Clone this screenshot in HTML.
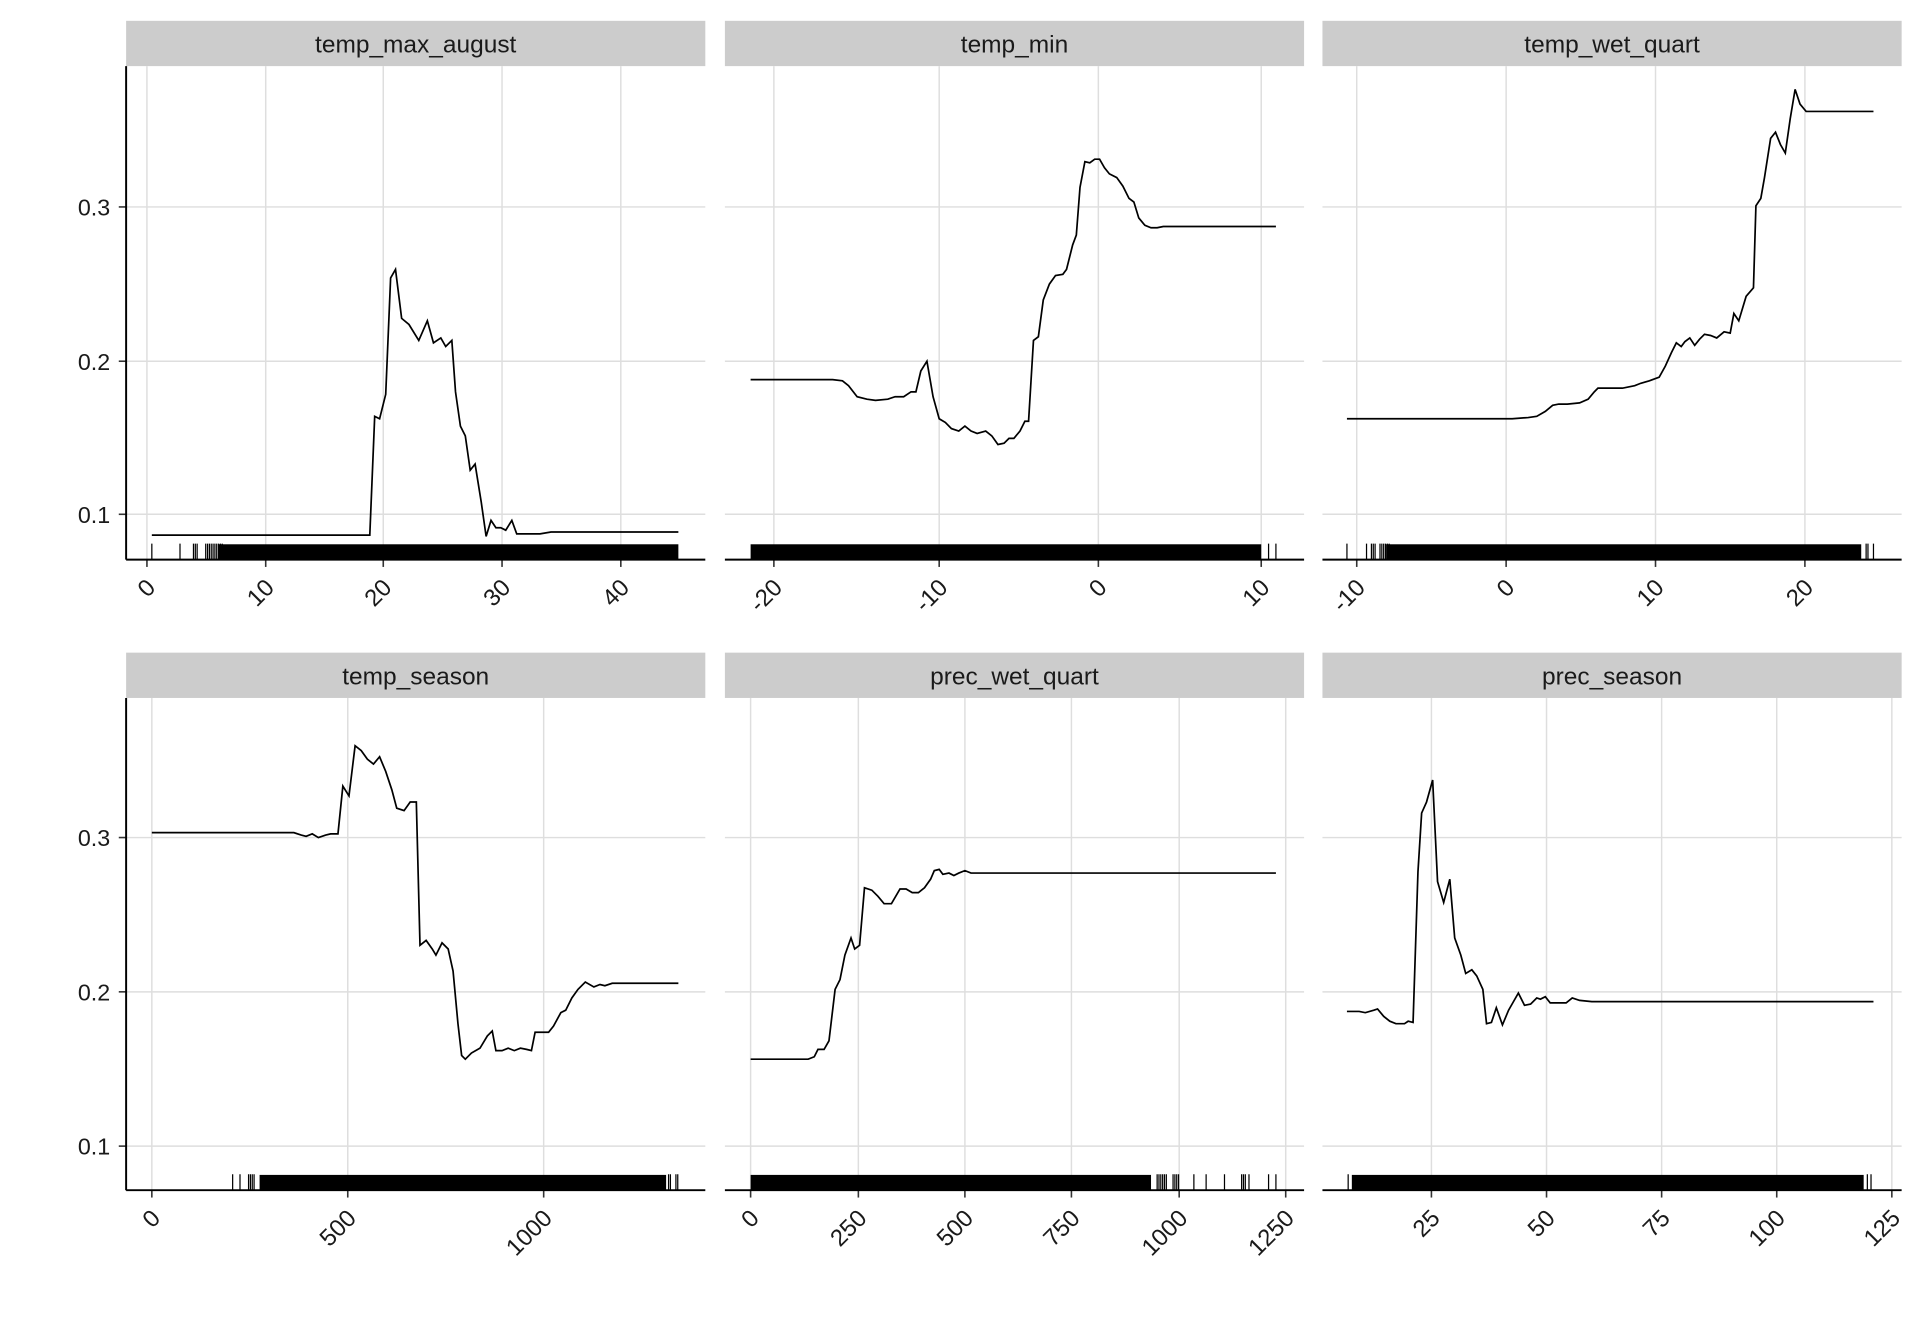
<!DOCTYPE html>
<html><head><meta charset="utf-8"><style>
html,body{margin:0;padding:0;background:#fff;}
svg{display:block;}
text{font-family:"Liberation Sans",Arial,sans-serif;fill:#1a1a1a;}
</style></head><body>
<svg id="s" width="1920" height="1344" viewBox="0 0 1568 1097.6" xmlns="http://www.w3.org/2000/svg"></svg>
<script>
const S=document.getElementById('s');
let h='';
const panels=[
 {x0:103,x1:576,top:17,name:'temp_max_august',row:0,ticks:[[120,'0'],[217,'10'],[313,'20'],[410,'30'],[507,'40']],
  sparse:[[124,1],[147,1],[158,3],[168,10]],solid:[[178,554]],
  pts:[[124,437],[302,437],[306,340],[310,342],[315,322],[319,227],[323,220],[328,260],[334,265],[342,278],[349,262],[354,280],[360,276],[364,283],[369,278],[372,320],[376,348],[380,356],[384,384],[388,379],[393,410],[397,438],[401,425],[405,431],[409,431],[413,433],[418,425],[422,436],[441,436],[450,434.5],[554,434.5]]},
 {x0:592,x1:1065,top:17,name:'temp_min',row:0,ticks:[[632,'-20'],[767,'-10'],[897,'0'],[1030,'10']],
  sparse:[[1036,1],[1042,1]],solid:[[613,1030]],
  pts:[[613,310],[680,310],[688,311],[693,315],[700,324],[708,326],[715,327],[725,326],[731,324],[738,324],[744,320],[748,320],[752,303],[757,295],[762,324],[767,342],[772,345],[777,350],[783,352],[788,348],[793,352],[798,354],[805,352],[810,356],[815,363],[820,362],[824,358],[828,358],[833,352],[837,344],[840,344],[844,278],[848,275],[852,245],[857,232],[862,225],[868,224],[871,220],[876,200],[879,192],[882,153],[886,132],[890,133],[894,130],[898,130],[902,137],[906,142],[912,145],[917,152],[922,162],[926,165],[930,178],[935,184],[940,186],[945,186],[950,185],[960,185],[1042,185]]},
 {x0:1080,x1:1553,top:17,name:'temp_wet_quart',row:0,ticks:[[1108,'-10'],[1230,'0'],[1352,'10'],[1474,'20']],
  sparse:[[1100,1],[1116,1],[1120,3],[1127,6],[1524,2],[1530,1]],solid:[[1132,1520]],
  pts:[[1100,342],[1235,342],[1248,341],[1255,340],[1262,336],[1268,331],[1273,330],[1280,330],[1290,329],[1297,326],[1302,320],[1305,317],[1315,317],[1325,317],[1330,316],[1335,315],[1340,313],[1347,311],[1355,308],[1360,299],[1365,288],[1369,280],[1373,283],[1376,279],[1380,276],[1384,282],[1388,277],[1392,273],[1397,274],[1402,276],[1408,271],[1413,272],[1416,256],[1420,262],[1426,242],[1432,235],[1434,168],[1438,162],[1441,145],[1446,113],[1450,108],[1454,118],[1458,125],[1462,97],[1466,73],[1470,85],[1475,91],[1530,91]]},
 {x0:103,x1:576,top:533,name:'temp_season',row:1,ticks:[[124,'0'],[284,'500'],[444,'1000']],
  sparse:[[190,1],[196,1],[203,4],[546,2],[552,2]],solid:[[212,544]],
  pts:[[124,680],[240,680],[246,682],[250,683],[255,681],[260,684],[266,682],[270,681],[276,681],[280,642],[285,650],[290,609],[295,613],[300,620],[305,624],[310,618],[315,630],[320,645],[324,660],[330,662],[335,655],[340,655],[343,772],[348,768],[353,775],[356,780],[361,770],[366,775],[370,793],[374,836],[377,862],[380,865],[385,860],[392,856],[398,846],[402,842],[405,858],[410,858],[415,856],[420,858],[425,856],[430,857],[434,858],[437,843],[448,843],[452,838],[458,827],[462,825],[467,815],[472,808],[478,802],[485,806],[490,804],[494,805],[500,803],[554,803]]},
 {x0:592,x1:1065,top:533,name:'prec_wet_quart',row:1,ticks:[[613,'0'],[701,'250'],[788,'500'],[875,'750'],[963,'1000'],[1050,'1250']],
  sparse:[[945,6],[958,4],[975,1],[985,1],[1000,1],[1014,3],[1020,1],[1036,1],[1042,1]],solid:[[613,940]],
  pts:[[613,865],[660,865],[665,863],[668,857],[673,857],[677,850],[682,808],[686,800],[690,780],[695,766],[698,775],[702,772],[706,725],[712,727],[717,732],[722,738],[728,738],[735,726],[740,726],[745,729],[750,729],[755,725],[760,718],[763,711],[767,710],[770,714],[775,713],[779,715],[783,713],[788,711],[793,713],[800,713],[1042,713]]},
 {x0:1080,x1:1553,top:533,name:'prec_season',row:1,ticks:[[1169,'25'],[1263,'50'],[1357,'75'],[1451,'100'],[1545,'125']],
  sparse:[[1101,1],[1525,1],[1528,1]],solid:[[1104,1522]],
  pts:[[1100,826],[1110,826],[1115,827],[1122,825],[1125,824],[1130,830],[1135,834],[1140,836],[1147,836],[1150,834],[1154,835],[1158,712],[1161,664],[1165,655],[1170,637],[1174,720],[1179,737],[1184,718],[1188,766],[1193,780],[1197,795],[1202,792],[1206,797],[1211,808],[1214,836],[1218,835],[1222,823],[1227,837],[1232,825],[1236,818],[1240,811],[1245,821],[1250,820],[1255,815],[1258,816],[1262,814],[1266,819],[1270,819],[1279,819],[1284,815],[1290,817],[1300,818],[1310,818],[1530,818]]}
];
panels.forEach((p,i)=>{
 const ptop=p.top+37, pbot=p.row?972:457;
 const ys=p.row?[[684,'0.3'],[810,'0.2'],[936,'0.1']]:[[169,'0.3'],[295,'0.2'],[420,'0.1']];
 h+=`<rect x="${p.x0}" y="${p.top}" width="${p.x1-p.x0}" height="37" fill="#cccccc"/>`;
 h+=`<text x="${(p.x0+p.x1)/2}" y="${p.top+26}" font-size="20" text-anchor="middle">${p.name}</text>`;
 ys.forEach(([y,l])=>{h+=`<line x1="${p.x0}" x2="${p.x1}" y1="${y}" y2="${y}" stroke="#dedede" stroke-width="1.2"/>`;
   if(p.x0===103) h+=`<text x="90" y="${y+7}" font-size="19" text-anchor="end">${l}</text><line x1="97" x2="103" y1="${y}" y2="${y}" stroke="#333" stroke-width="1.3"/>`;});
 p.ticks.forEach(([x,l])=>{h+=`<line x1="${x}" x2="${x}" y1="${ptop}" y2="${pbot}" stroke="#dedede" stroke-width="1.2"/>`;
   h+=`<line x1="${x}" x2="${x}" y1="${pbot}" y2="${pbot+6}" stroke="#333" stroke-width="1.3"/>`;
   h+=`<text transform="translate(${x+8},${pbot+24}) rotate(-45)" font-size="19.5" text-anchor="end">${l}</text>`;});
 let r='';
 p.sparse.forEach(([x,n])=>{for(let k=0;k<n;k++){const xx=(x+k*1.5).toFixed(1);r+=`M${xx} ${pbot-13}V${pbot}`;}});
 h+=`<path d="${r}" stroke="#000" stroke-width="1"/>`;
 p.solid.forEach(([a,b])=>{h+=`<rect x="${a}" y="${pbot-12.5}" width="${b-a}" height="12.5" fill="#000"/>`;});
 h+=`<polyline points="${p.pts.map(q=>q.join(',')).join(' ')}" fill="none" stroke="#000" stroke-width="1.4"/>`;
 h+=`<line x1="${p.x0}" x2="${p.x1}" y1="${pbot}" y2="${pbot}" stroke="#000" stroke-width="1.6"/>`;
 if(p.x0===103) h+=`<line x1="103" x2="103" y1="${ptop}" y2="${pbot}" stroke="#000" stroke-width="1.6"/>`;
});
S.innerHTML=h;
</script>
</body></html>
